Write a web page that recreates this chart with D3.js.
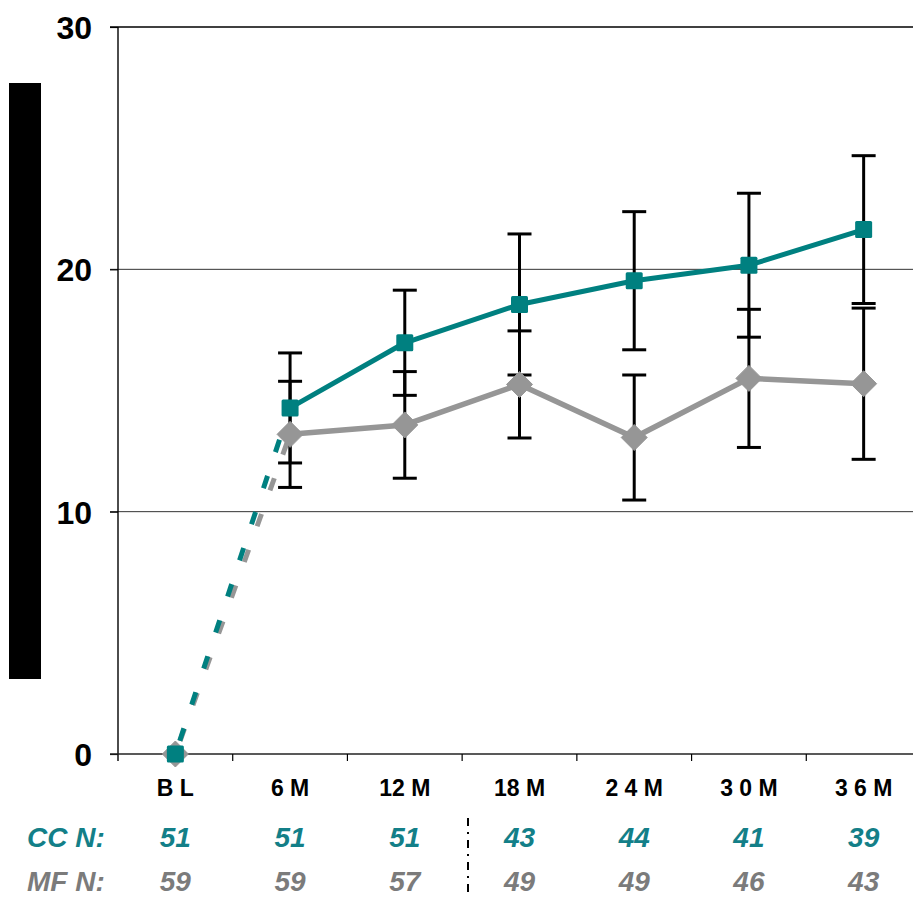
<!DOCTYPE html>
<html>
<head>
<meta charset="utf-8">
<script src="https://cdn.jsdelivr.net/npm/d3@7"></script>
<style>
  html, body { margin: 0; padding: 0; background: #ffffff; }
  svg { display: block; font-family: "Liberation Sans", Arial, sans-serif; }
</style>
</head>
<body>
<svg id="chart" width="913" height="898"></svg>
<script>
// ---- data ----
const categories = ["B L", "6 M", "12 M", "18 M", "2 4 M", "3 0 M", "3 6 M"];
const ccValues = [0, 14.28, 16.97, 18.55, 19.53, 20.17, 21.64];
const ccErrors = [null, 2.27, 2.17, 2.91, 2.85, 2.97, 3.05];
const mfValues = [0, 13.19, 13.58, 15.25, 13.06, 15.5, 15.28];
const mfErrors = [null, 2.19, 2.2, 2.21, 2.58, 2.85, 3.12];
const ccN = ["51", "51", "51", "43", "44", "41", "39"];
const mfN = ["59", "59", "57", "49", "49", "46", "43"];
const yTicks = [0, 10, 20, 30];
const rowLabels = ["CC N:", "MF N:"];

// ---- styles ----
const TEAL = "#008080";
const TEAL_TEXT = "#137f88";
const GRAY = "#969696";
const GRAY_TEXT = "#7b7b7b";

const svg = d3.select("#chart");

const x = d3.scaleBand().domain(categories).range([118, 921]).paddingInner(0).paddingOuter(0);
const cx = c => x(c) + x.bandwidth() / 2;
const y = d3.scaleLinear().domain([0, 30]).range([754, 27]);

// redaction bar (axis title)
svg.append("rect").attr("x", 9).attr("y", 83).attr("width", 32).attr("height", 596).attr("fill", "#000");

// gridlines
svg.append("g").selectAll("line").data(yTicks.filter(t => t > 0)).join("line")
  .attr("x1", 110).attr("x2", 913)
  .attr("y1", d => y(d)).attr("y2", d => y(d))
  .attr("stroke", d => d === 30 ? "#000" : "#333")
  .attr("stroke-width", d => d === 30 ? 1.4 : 1);

// y axis
const yAxis = d3.axisLeft(y).tickValues(yTicks).tickSize(8).tickFormat(d3.format("d"));
const gy = svg.append("g").attr("transform", "translate(118,0)").call(yAxis);
gy.select(".domain").remove();
gy.selectAll(".tick line").attr("stroke", "#000").attr("stroke-width", 1.2);
gy.selectAll(".tick text").attr("x", -26).attr("dy", "0.36em")
  .attr("font-size", 32).attr("font-weight", "bold").attr("fill", "#000")
  .attr("font-family", "'Liberation Sans', Arial, sans-serif");
svg.append("line").attr("x1", 118).attr("x2", 118).attr("y1", 27).attr("y2", 761)
  .attr("stroke", "#000").attr("stroke-width", 1.4);

// x axis line and ticks at band boundaries
svg.append("line").attr("x1", 110).attr("x2", 913).attr("y1", y(0)).attr("y2", y(0))
  .attr("stroke", "#222").attr("stroke-width", 1.6);
svg.append("g").selectAll("line").data(categories.slice(1)).join("line")
  .attr("x1", d => x(d)).attr("x2", d => x(d))
  .attr("y1", y(0)).attr("y2", y(0) + 7)
  .attr("stroke", "#000").attr("stroke-width", 1.2);

// x labels
svg.append("g").selectAll("text").data(categories).join("text")
  .attr("x", d => cx(d)).attr("y", 796)
  .attr("text-anchor", "middle").attr("font-size", 23).attr("font-weight", "bold")
  .attr("fill", "#000").text(d => d);

// dashed lines BL -> 6M
const dashSeg = (vals, color) => {
  svg.append("line")
    .attr("x1", cx(categories[0])).attr("y1", y(vals[0]))
    .attr("x2", cx(categories[1])).attr("y2", y(vals[1]))
    .attr("stroke", color).attr("stroke-width", 5)
    .attr("stroke-dasharray", "13,25").attr("stroke-dashoffset", -14);
};
dashSeg(mfValues, GRAY);
dashSeg(ccValues, TEAL);

// error bars
const errG = svg.append("g");
const drawErr = (vals, errs) => {
  const d = categories.map((c, i) => ({ c, v: vals[i], e: errs[i] })).filter(o => o.e != null);
  errG.selectAll(null).data(d).join("line")
    .attr("x1", o => cx(o.c)).attr("x2", o => cx(o.c))
    .attr("y1", o => y(o.v + o.e)).attr("y2", o => y(o.v - o.e))
    .attr("stroke", "#000").attr("stroke-width", 3);
  ["top", "bot"].forEach(k => {
    errG.selectAll(null).data(d).join("line")
      .attr("x1", o => cx(o.c) - 12).attr("x2", o => cx(o.c) + 12)
      .attr("y1", o => y(k === "top" ? o.v + o.e : o.v - o.e))
      .attr("y2", o => y(k === "top" ? o.v + o.e : o.v - o.e))
      .attr("stroke", "#000").attr("stroke-width", 3);
  });
};
drawErr(ccValues, ccErrors);
drawErr(mfValues, mfErrors);

// solid lines 6M onwards
const line = d3.line().x(d => cx(d.c)).y(d => y(d.v));
const seq = vals => categories.map((c, i) => ({ c, v: vals[i] })).slice(1);
svg.append("path").datum(seq(mfValues)).attr("d", line)
  .attr("fill", "none").attr("stroke", GRAY).attr("stroke-width", 5.5).attr("stroke-linejoin", "round");
svg.append("path").datum(seq(ccValues)).attr("d", line)
  .attr("fill", "none").attr("stroke", TEAL).attr("stroke-width", 5).attr("stroke-linejoin", "round");

// markers
const all = vals => categories.map((c, i) => ({ c, v: vals[i] }));
svg.append("g").selectAll("path").data(all(mfValues)).join("path")
  .attr("transform", d => `translate(${cx(d.c)},${y(d.v)})`)
  .attr("d", "M0,-13L13,0L0,13L-13,0Z")
  .attr("fill", GRAY).attr("stroke", GRAY).attr("stroke-width", 1).attr("stroke-linejoin", "round");
svg.append("g").selectAll("rect").data(all(ccValues)).join("rect")
  .attr("x", d => cx(d.c) - 8.5).attr("y", d => y(d.v) - 8.5)
  .attr("width", 17).attr("height", 17).attr("rx", 1.5)
  .attr("fill", TEAL);

// N rows
const ROW1 = 847, ROW2 = 891;
svg.append("text").attr("x", 27).attr("y", ROW1)
  .attr("font-size", 28).attr("font-weight", "bold").attr("font-style", "italic")
  .attr("fill", TEAL_TEXT).text(rowLabels[0]);
svg.append("text").attr("x", 27).attr("y", ROW2)
  .attr("font-size", 28).attr("font-weight", "bold").attr("font-style", "italic")
  .attr("fill", GRAY_TEXT).text(rowLabels[1]);
svg.append("g").selectAll("text").data(categories).join("text")
  .attr("x", d => cx(d)).attr("y", ROW1)
  .attr("text-anchor", "middle").attr("font-size", 28).attr("font-weight", "bold").attr("font-style", "italic")
  .attr("fill", TEAL_TEXT).text((d, i) => ccN[i]);
svg.append("g").selectAll("text").data(categories).join("text")
  .attr("x", d => cx(d)).attr("y", ROW2)
  .attr("text-anchor", "middle").attr("font-size", 28).attr("font-weight", "bold").attr("font-style", "italic")
  .attr("fill", GRAY_TEXT).text((d, i) => mfN[i]);

// dash-dot separator
svg.append("line").attr("x1", 468).attr("x2", 468).attr("y1", 818).attr("y2", 898)
  .attr("stroke", "#000").attr("stroke-width", 2).attr("stroke-dasharray", "8,6,2,6");
</script>
</body>
</html>
